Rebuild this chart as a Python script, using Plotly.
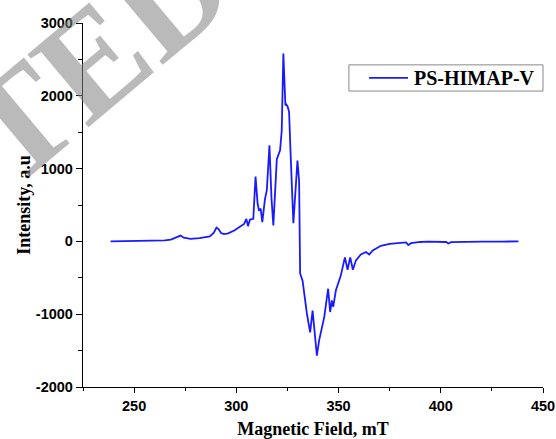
import plotly.graph_objects as go

field = [238.5, 250, 260, 265, 268, 271, 272.7, 274.3, 277.6, 282, 287, 289, 290.3, 291.3, 292.5,
         294, 296, 299, 302, 303.8, 304.9, 305.7, 306.7, 308.3, 309.4, 310.4, 311.1, 311.9, 312.7,
         314.0, 314.9, 316.2, 317.2, 318.1, 319.8, 321.4, 322.2, 323.0, 324.0, 324.5, 325.1, 325.8,
         326.6, 327.9, 329.9, 330.7, 331.2, 332.4, 334.5, 335.6, 336.1, 337.3, 338.0, 339.4, 340.5,
         343.0, 344.9, 345.9, 346.7, 347.4, 348.7, 351.1, 353.1, 354.4, 355.7, 357.0, 358.5, 360.9,
         363.4, 365.0, 366.7, 370.7, 375, 378.9, 383, 384.1, 385.5, 390, 393.6, 402.6, 403.7, 405,
         410, 420, 430, 438]
intensity = [0, 2, 8, 15, 25, 55, 80, 50, 35, 45, 70, 120, 190, 170, 115,
             100, 110, 150, 200, 240, 310, 210, 300, 310, 890, 520, 420, 450, 265,
             580, 700, 1320, 590, 220, 1130, 1250, 1520, 2580, 1870, 1880, 1850, 1780,
             1160, 250, 1110, 830, -440, -540, -990, -1220, -1250, -950, -1130, -1570, -1360,
             -1040, -650, -970, -810, -900, -670, -470, -220, -390, -220, -390, -260, -180,
             -145, -180, -125, -60, -35, -23, -14, -50, -25, -8, -2, -8, -28, -10,
             -5, -3, -2, 0]

series_name = "PS-HIMAP-V"
x_ticks = [250, 300, 350, 400, 450]
y_ticks = [-2000, -1000, 0, 1000, 2000, 3000]
y_tick_labels = ["-2000", "-1000", "0", "1000", "2000", "3000"]

LINE_COLOR = "#1a1aff"

fig = go.Figure()
fig.add_trace(go.Scatter(x=field, y=intensity, mode="lines", name=series_name,
                         line=dict(color=LINE_COLOR, width=1.8), showlegend=False))

tickfont = dict(family="Liberation Sans", size=14.5, color="black", weight="bold")
titlefont = dict(family="Liberation Serif", size=18, color="black", weight="bold")

fig.update_xaxes(range=[225, 450], tickvals=x_ticks, showgrid=False, zeroline=False,
                 showline=True, linecolor="black", linewidth=1.3, automargin=False,
                 ticks="outside", ticklen=5, tickwidth=1.2, tickcolor="black",
                 minor=dict(dtick=25, tick0=225, ticks="outside", ticklen=3, tickcolor="black", tickwidth=1),
                 tickfont=tickfont,
                 title=dict(text="Magnetic Field, mT", font=titlefont, standoff=17))
fig.update_yaxes(range=[-2000, 3000], tickvals=y_ticks, ticktext=y_tick_labels,
                 showgrid=False, zeroline=False,
                 showline=True, linecolor="black", linewidth=1.3, automargin=False,
                 ticks="outside", ticklen=6, tickwidth=1.2, tickcolor="black",
                 minor=dict(dtick=500, ticks="outside", ticklen=4, tickcolor="black", tickwidth=1),
                 tickfont=tickfont,
                 title=dict(text="Intensity, a.u", font=titlefont, standoff=0))

# watermark
fig.add_annotation(text="TED", xref="paper", yref="paper", x=0.025, y=0.905,
                   xanchor="center", yanchor="middle",
                   showarrow=False, textangle=-40,
                   font=dict(family="Liberation Serif", size=145, weight="bold",
                             color="rgba(130,130,130,0.55)"))

# legend box (drawn to match the reference's compact framed legend)
fig.add_shape(type="rect", xref="paper", yref="paper", x0=0.578, x1=1.0, y0=0.813, y1=0.885,
              line=dict(color="#888888", width=1), fillcolor="white", layer="above")
fig.add_shape(type="line", xref="paper", yref="paper", x0=0.622, x1=0.7065, y0=0.849, y1=0.849,
              line=dict(color=LINE_COLOR, width=1.8), layer="above")
fig.add_annotation(text=series_name, xref="paper", yref="paper", x=0.715, y=0.849,
                   xanchor="left", yanchor="middle", showarrow=False,
                   font=dict(family="Liberation Serif", size=20, color="black", weight="bold"))

fig.update_layout(
    width=556, height=439,
    margin=dict(l=83, r=13, t=23, b=52, autoexpand=False),
    paper_bgcolor="white", plot_bgcolor="white",
    showlegend=False,
)

fig.write_html("out.html", config={"displayModeBar": False},
               post_script="document.body.style.margin='0';document.body.style.overflow='hidden';")
